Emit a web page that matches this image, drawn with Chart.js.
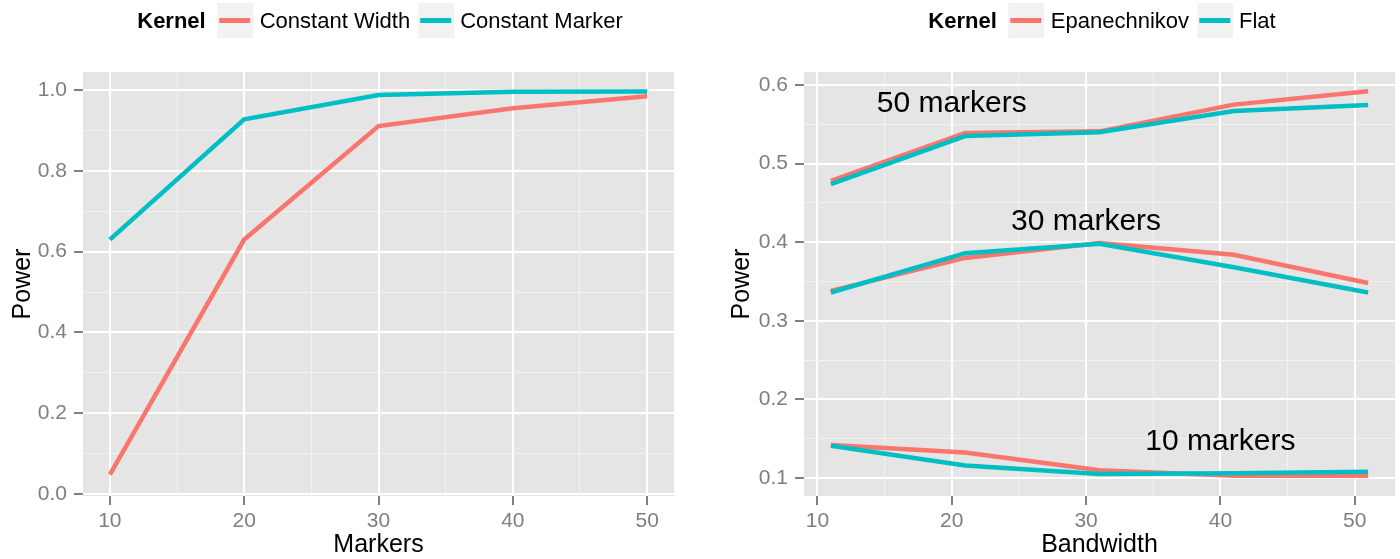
<!DOCTYPE html>
<html>
<head>
<meta charset="utf-8">
<script src="https://cdn.jsdelivr.net/npm/chart.js@4.4.4/dist/chart.umd.min.js"></script>
<style>
  body { margin: 0; background: #fff; width: 1400px; height: 559px; position: relative; overflow: hidden; font-family: "Liberation Sans", Arial, sans-serif; }
  canvas { position: absolute; top: 0; }
  #left { left: 0; }
  #right { left: 700px; }
  .legend { position: absolute; top: 3px; display: flex; align-items: center; font-size: 22px; color: #000; transform: translateX(-50%); white-space: nowrap; }
  .legend b { margin-right: 12px; }
  .key { width: 36px; height: 35px; background: #f2f2f2; position: relative; margin-right: 6px; }
  .key i { position: absolute; left: 2px; right: 3px; top: 15px; height: 5px; }
  .legend span { margin-right: 8px; }
</style>
</head>
<body>
<canvas id="left" width="700" height="559"></canvas>
<canvas id="right" width="700" height="559"></canvas>
<div class="legend" id="legLeft" style="left:384px"></div>
<div class="legend" id="legRight" style="left:1106px"></div>
<script>
// left panel: power vs number of markers
const markers = [10, 20, 30, 40, 50];
const constantWidth = [0.048, 0.63, 0.911, 0.955, 0.985];
const constantMarker = [0.63, 0.928, 0.988, 0.996, 0.997];

// right panel: power vs bandwidth, three marker counts
const bandwidth = [11, 21, 31, 41, 51];
const epan50 = [0.478, 0.539, 0.541, 0.575, 0.592];
const flat50 = [0.474, 0.535, 0.540, 0.567, 0.5745];
const epan30 = [0.338, 0.380, 0.399, 0.384, 0.348];
const flat30 = [0.336, 0.386, 0.398, 0.368, 0.336];
const epan10 = [0.142, 0.1325, 0.110, 0.103, 0.103];
const flat10 = [0.141, 0.116, 0.105, 0.106, 0.108];

const annoText = ['50 markers', '30 markers', '10 markers'];
const annoX = [20, 30, 40];
const annoY = [0.58, 0.43, 0.15];

const xMajor = [10, 20, 30, 40, 50];
const xMinor = [15, 25, 35, 45];
const yMajorLeft = [0, 0.2, 0.4, 0.6, 0.8, 1.0];
const yMinorLeft = [0.1, 0.3, 0.5, 0.7, 0.9];
const yMajorRight = [0.1, 0.2, 0.3, 0.4, 0.5, 0.6];
const yMinorRight = [0.15, 0.25, 0.35, 0.45, 0.55];

const RED = '#F8766D';
const TEAL = '#00BFC4';
const FONT = '"Liberation Sans", Arial, sans-serif';

function pts(xs, ys) {
  return xs.map((x, i) => ({ x, y: ys[i] }));
}

function line(xs, ys, color) {
  return {
    data: pts(xs, ys),
    borderColor: color,
    borderWidth: 4.5,
    pointRadius: 0,
    tension: 0,
    order: color === TEAL ? 0 : 1,
  };
}

const panelBg = {
  id: 'panelBg',
  beforeDraw(chart) {
    const a = chart.chartArea;
    const ctx = chart.ctx;
    ctx.save();
    ctx.fillStyle = '#E5E5E5';
    ctx.fillRect(a.left, a.top, a.right - a.left, a.bottom - a.top);
    ctx.restore();
  }
};

const annotations = {
  id: 'annotations',
  afterDatasetsDraw(chart, args, opts) {
    if (!opts.text) return;
    const ctx = chart.ctx;
    ctx.save();
    ctx.font = '30px ' + FONT;
    ctx.fillStyle = '#000';
    ctx.textAlign = 'center';
    ctx.textBaseline = 'alphabetic';
    opts.text.forEach((t, i) => {
      const px = chart.scales.x.getPixelForValue(opts.x[i]);
      const py = chart.scales.y.getPixelForValue(opts.y[i]);
      ctx.fillText(t, px, py + 11);
    });
    ctx.restore();
  }
};

function axis(major, minor, min, max, title, fmt, isY, fixedSize, titlePad) {
  const all = major.concat(minor).sort((a, b) => a - b);
  return {
    type: 'linear',
    min, max,
    afterBuildTicks: s => { s.ticks = all.map(v => ({ value: v })); },
    afterFit: s => { if (isY) s.width = fixedSize; else s.height = fixedSize; },
    border: { display: false },
    grid: {
      color: c => major.includes(c.tick.value) ? '#ffffff' : '#F2F2F2',
      lineWidth: c => major.includes(c.tick.value) ? 2 : 1,
      tickColor: c => major.includes(c.tick.value) ? '#7f7f7f' : 'rgba(0,0,0,0)',
      tickWidth: 2,
      tickLength: 9,
    },
    ticks: {
      autoSkip: false,
      maxRotation: 0,
      padding: isY ? 7 : 4,
      color: '#7f7f7f',
      font: { family: FONT, size: 21 },
      callback: v => major.includes(v) ? fmt(v) : '',
    },
    title: {
      display: true,
      text: title,
      color: '#000',
      font: { family: FONT, size: 25, lineHeight: 1 },
      padding: isY ? { top: titlePad, bottom: 0 } : { top: 0, bottom: 1 },
    },
  };
}

function panel(el, datasets, xRange, yAxis, padRight, anno) {
  return new Chart(el, {
    type: 'line',
    data: { datasets },
    options: {
      responsive: false,
      animation: false,
      devicePixelRatio: 1,
      layout: { padding: { top: 72, right: padRight, left: 0, bottom: 0 } },
      plugins: { legend: { display: false }, tooltip: { enabled: false }, annotations: anno },
      scales: {
        x: axis(xMajor, xMinor, xRange[0], xRange[1], xRange[2], v => String(v), false, 63),
        y: yAxis,
      },
    },
    plugins: [panelBg, annotations],
  });
}

panel(document.getElementById('left'), [
  line(markers, constantWidth, RED),
  line(markers, constantMarker, TEAL),
], [8, 52, 'Markers'],
  axis(yMajorLeft, yMinorLeft, -0.005, 1.045, 'Power', v => v.toFixed(1), true, 83, 11),
  26, {});

panel(document.getElementById('right'), [
  line(bandwidth, epan50, RED),
  line(bandwidth, flat50, TEAL),
  line(bandwidth, epan30, RED),
  line(bandwidth, flat30, TEAL),
  line(bandwidth, epan10, RED),
  line(bandwidth, flat10, TEAL),
], [9, 53, 'Bandwidth'],
  axis(yMajorRight, yMinorRight, 0.0771, 0.6165, 'Power', v => v.toFixed(1), true, 104, 30),
  5, { text: annoText, x: annoX, y: annoY });

function legend(id, labels) {
  const el = document.getElementById(id);
  let html = '<b>Kernel</b>';
  labels.forEach(([label, color]) => {
    html += `<div class="key"><i style="background:${color}"></i></div><span>${label}</span>`;
  });
  el.innerHTML = html;
}
legend('legLeft', [['Constant Width', RED], ['Constant Marker', TEAL]]);
legend('legRight', [['Epanechnikov', RED], ['Flat', TEAL]]);
</script>
</body>
</html>
